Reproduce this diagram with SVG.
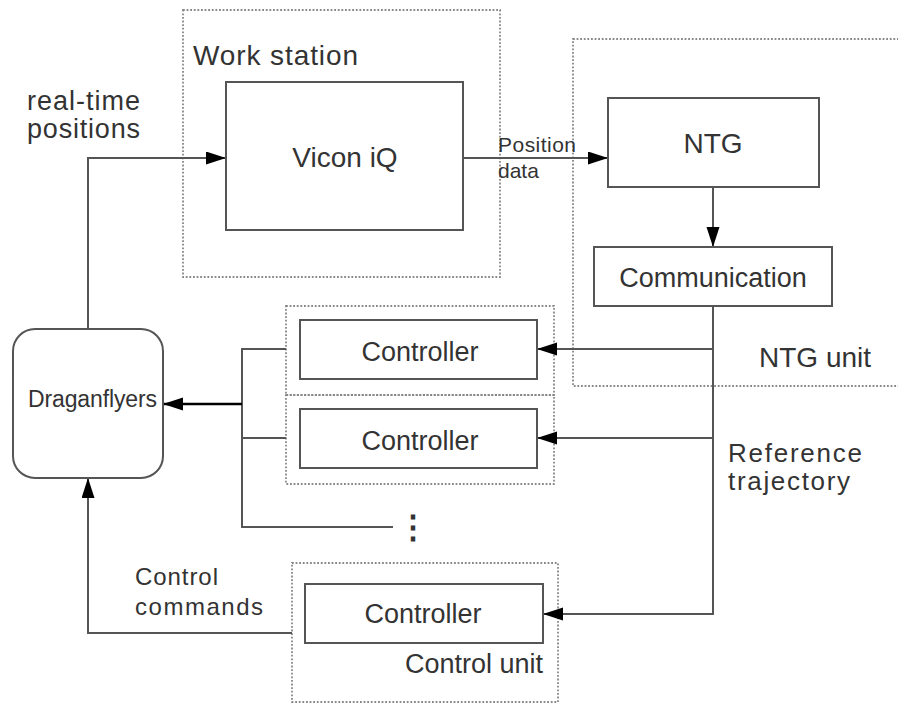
<svg xmlns="http://www.w3.org/2000/svg" width="898" height="704" viewBox="0 0 898 704">
<style>
.box{fill:#fff;stroke:#555;stroke-width:2}
.grp{fill:none;stroke:#888;stroke-width:1.8;stroke-dasharray:1.8 1.8}
.ln{fill:none;stroke:#555;stroke-width:2}
.t{font-family:"Liberation Sans",Arial,sans-serif;fill:#333}
</style>
<defs>
<marker id="ah" markerUnits="userSpaceOnUse" markerWidth="22" markerHeight="14" refX="20" refY="6.5" orient="auto">
<path d="M0,0 L20,6.5 L0,13 z" fill="#000"/>
</marker>
</defs>
<rect width="898" height="704" fill="#fff"/>

<g id="work-station">
<rect class="grp" x="183" y="10" width="317" height="267"/>
<text class="t" x="193" y="65" font-size="28" textLength="165">Work station</text>
</g>
<g id="ntg-unit">
<rect class="grp" x="573" y="39" width="330" height="347"/>
<text class="t" x="759" y="367" font-size="28">NTG unit</text>
</g>
<g id="ctrl-group-1"><rect class="grp" x="286" y="306" width="268" height="89"/></g>
<g id="ctrl-group-2"><rect class="grp" x="286" y="395" width="268" height="89"/></g>
<g id="control-unit">
<rect class="grp" x="292" y="563" width="266" height="139"/>
<text class="t" x="543" y="673" font-size="27" text-anchor="end">Control unit</text>
</g>

<g id="connectors">
<polyline class="ln" points="88,329 88,158 226,158" marker-end="url(#ah)"/>
<line class="ln" x1="463" y1="158" x2="608" y2="158" marker-end="url(#ah)"/>
<line class="ln" x1="713" y1="187" x2="713" y2="247" marker-end="url(#ah)"/>
<polyline class="ln" points="713,306 713,614 543,614" marker-end="url(#ah)"/>
<line class="ln" x1="713" y1="349" x2="537" y2="349" marker-end="url(#ah)"/>
<line class="ln" x1="713" y1="438" x2="537" y2="438" marker-end="url(#ah)"/>
<polyline class="ln" points="286,349 242,349 242,527 393,527"/>
<line class="ln" x1="242" y1="438" x2="286" y2="438"/>
<line x1="242" y1="404" x2="163" y2="404" stroke="#000" stroke-width="2.5" marker-end="url(#ah)"/>
<polyline class="ln" points="292,633 88,633 88,478" marker-end="url(#ah)"/>
<text class="t" x="498" y="152" font-size="21" textLength="78">Position</text>
<text class="t" x="498" y="178" font-size="21">data</text>
<text class="t" x="27" y="110" font-size="27" textLength="113">real-time</text>
<text class="t" x="27" y="138" font-size="27" textLength="113">positions</text>
<text class="t" x="728" y="462" font-size="26" textLength="134">Reference</text>
<text class="t" x="728" y="490" font-size="26" textLength="122">trajectory</text>
<text class="t" x="135" y="585" font-size="24" textLength="83">Control</text>
<text class="t" x="135" y="615" font-size="24" textLength="128">commands</text>
<text class="t" x="413" y="538" font-size="32" font-weight="bold" text-anchor="middle" font-family="DejaVu Sans, sans-serif">⋮</text>
</g>

<g id="vicon-iq">
<rect class="box" x="226" y="82" width="237" height="148"/>
<text class="t" x="345" y="167" font-size="28" text-anchor="middle">Vicon iQ</text>
</g>
<g id="ntg">
<rect class="box" x="608" y="98" width="211" height="89"/>
<text class="t" x="713" y="153" font-size="28" text-anchor="middle">NTG</text>
</g>
<g id="communication">
<rect class="box" x="594" y="247" width="238" height="59"/>
<text class="t" x="713" y="287" font-size="27" text-anchor="middle">Communication</text>
</g>
<g id="controller-1">
<rect class="box" x="300" y="320" width="237" height="59"/>
<text class="t" x="420" y="361" font-size="27" text-anchor="middle">Controller</text>
</g>
<g id="controller-2">
<rect class="box" x="300" y="409" width="237" height="59"/>
<text class="t" x="420" y="450" font-size="27" text-anchor="middle">Controller</text>
</g>
<g id="controller-3">
<rect class="box" x="305" y="584" width="238" height="59"/>
<text class="t" x="423" y="623" font-size="27" text-anchor="middle">Controller</text>
</g>
<g id="draganflyers">
<rect class="box" x="13" y="329" width="150" height="149" rx="22" ry="22"/>
<text class="t" x="28" y="407" font-size="23" textLength="129">Draganflyers</text>
</g>
</svg>
